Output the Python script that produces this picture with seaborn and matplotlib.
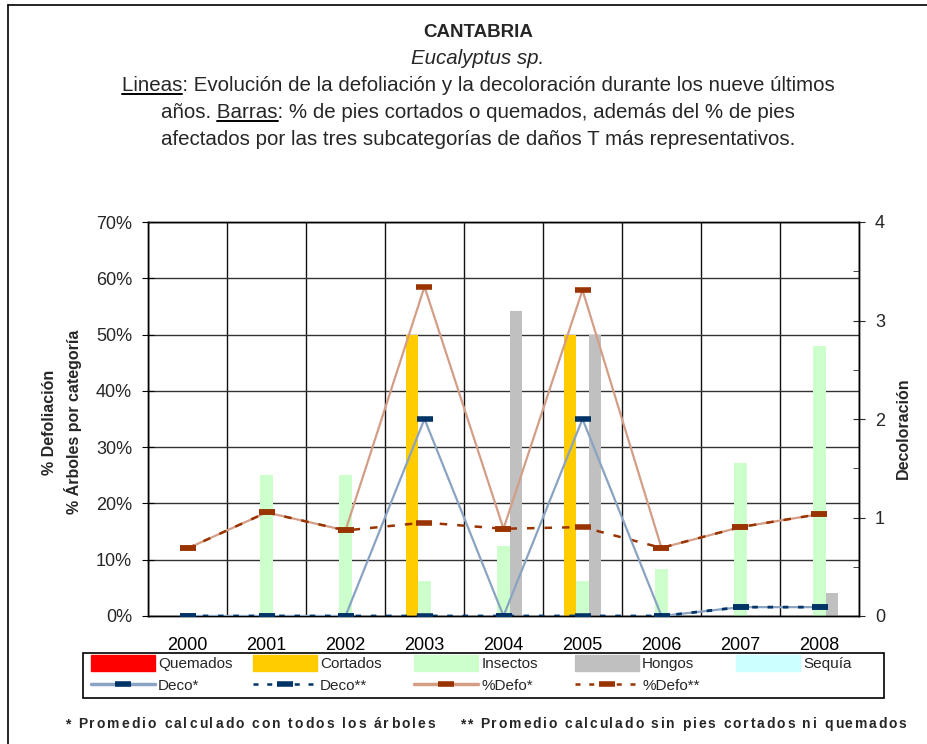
import numpy as np
import pandas as pd
import seaborn as sns
import matplotlib.pyplot as plt
from matplotlib.lines import Line2D
from matplotlib.patches import Patch, Rectangle
from matplotlib.ticker import FuncFormatter, MultipleLocator

years = ['2000', '2001', '2002', '2003', '2004', '2005', '2006', '2007', '2008']

# bars, % of trees per category
quemados = [0, 0, 0, 0, 0, 0, 0, 0, 0]
cortados = [0, 0, 0, 50, 0, 50, 0, 0, 0]
insectos = [0, 25, 25, 6.25, 12.5, 6.25, 8.33, 27.1, 48]
hongos = [0, 0, 0, 0, 54.2, 50, 0, 0, 4]
sequia = [0, 0, 0, 0, 0, 0, 0, 0, 0]

# lines
defo_all = [12.0, 18.4, 15.2, 58.5, 15.5, 57.9, 12.1, 15.8, 18.1]
defo_nocut = [12.0, 18.4, 15.2, 16.6, 15.5, 15.8, 12.1, 15.8, 18.1]
deco_all = [0, 0, 0, 2.0, 0, 2.0, 0, 0.09, 0.09]
deco_nocut = [0, 0, 0, 0, 0, 0, 0, 0.09, 0.09]

cats = ['Quemados', 'Cortados', 'Insectos', 'Hongos', 'Sequía']
colors = ['#FF0000', '#FFCC00', '#CCFFCC', '#C0C0C0', '#CCFFFF']

df = pd.DataFrame({
    'year': years * 5,
    'valor': quemados + cortados + insectos + hongos + sequia,
    'cat': sum([[c] * len(years) for c in cats], []),
})

sns.set_style('white')
plt.rcParams['font.family'] = ['Liberation Sans', 'DejaVu Sans']

W, H = 928, 744
fig = plt.figure(figsize=(W / 100, H / 100), dpi=100)
ax = fig.add_axes([148 / W, 1 - 616 / H, 711 / W, 394 / H])

sns.barplot(data=df, x='year', y='valor', hue='cat', hue_order=cats,
            palette=dict(zip(cats, colors)), saturation=1, linewidth=0,
            legend=False, ax=ax, zorder=2)

xpos = np.arange(len(years))
c_deco_all, c_deco_nc, c_mk_deco = '#8AA3C2', '#003366', '#003366'
c_defo_all, c_defo_nc, c_mk_defo = '#D49E86', '#993300', '#993300'
mk = dict(marker='_', markersize=11, markeredgewidth=4)

sns.lineplot(x=xpos, y=defo_all, ax=ax, color=c_defo_all, lw=1.6,
             markeredgecolor=c_mk_defo, zorder=4, **mk)
sns.lineplot(x=xpos, y=defo_nocut, ax=ax, color=c_defo_nc, lw=1.8,
             linestyle=(0, (3, 4)), markeredgecolor=c_mk_defo, zorder=5, **mk)

ax.set_xlim(-0.5, len(years) - 0.5)
ax.set_ylim(0, 70)
ax.yaxis.set_major_locator(MultipleLocator(10))
ax.yaxis.set_major_formatter(FuncFormatter(lambda v, p: f'{v:.0f}%'))
ax.set_xticks(xpos)
ax.set_xticklabels(years)
ax.set_xticks(np.arange(-0.5, len(years)), minor=True)
ax.grid(True, axis='y', which='major', color='#333333', lw=1)
ax.grid(True, axis='x', which='minor', color='#111111', lw=1)
ax.set_axisbelow(True)
ax.tick_params(axis='x', which='major', length=0, labelsize=13, pad=15, colors='black')
ax.tick_params(axis='x', which='minor', length=8, direction='inout', color='black')
ax.tick_params(axis='y', length=9, direction='inout', labelsize=13, pad=7, color='black', left=True)
ax.set_xlabel('')
ax.set_ylabel('')
for s in ax.spines.values():
    s.set_color('black')
    s.set_linewidth(1)

ax2 = ax.twinx()
sns.lineplot(x=xpos, y=deco_all, ax=ax2, color=c_deco_all, lw=1.6,
             markeredgecolor=c_mk_deco, zorder=4, **mk)
sns.lineplot(x=xpos, y=deco_nocut, ax=ax2, color=c_deco_nc, lw=2,
             linestyle=(0, (2, 3.5)), markeredgecolor=c_mk_deco, zorder=5, **mk)
ax2.set_ylim(0, 4)
ax2.set_xlim(-0.5, len(years) - 0.5)
ax2.yaxis.set_major_locator(MultipleLocator(1))
ax2.yaxis.set_minor_locator(MultipleLocator(0.5))
ax2.tick_params(axis='y', which='major', length=9, direction='inout', labelsize=13, pad=7, right=True)
ax2.tick_params(axis='y', which='minor', length=4, direction='in', right=True)
ax2.set_ylabel('')
for s in ax2.spines.values():
    s.set_color('black')
    s.set_linewidth(1)

fig.text(62 / W, 1 - 422 / H, '% Defoliación\n% Árboles por categoría', rotation=90,
         ha='center', va='center', ma='center', fontsize=11.5, fontweight='bold', linespacing=1.45)
fig.text(903 / W, 1 - 428 / H, 'Decoloración', rotation=90, ha='center', va='center',
         fontsize=11.5, fontweight='bold')

# title block
fs = 14.8
cx = 478 / W
fig.text(cx, 1 - 37 / H, 'CANTABRIA', ha='center', va='baseline', fontsize=13.5, fontweight='bold')
fig.text(cx, 1 - 64 / H, 'Eucalyptus sp.', ha='center', va='baseline', fontsize=fs, style='italic')
l3 = fig.text(cx, 1 - 91 / H, 'Lineas: Evolución de la defoliación y la decoloración durante los nueve últimos',
              ha='center', va='baseline', fontsize=fs)
l4 = fig.text(cx, 1 - 118 / H, 'años. Barras: % de pies cortados o quemados, además del % de pies',
              ha='center', va='baseline', fontsize=fs)
fig.text(cx, 1 - 145 / H, 'afectados por las tres subcategorías de daños T más representativos.',
         ha='center', va='baseline', fontsize=fs)

r = fig.canvas.get_renderer()


def width(s, **kw):
    t = fig.text(0, 0, s, **kw)
    w = t.get_window_extent(r).width
    t.remove()
    return w


def underline(txt, before, word):
    kw = dict(fontproperties=txt.get_fontproperties())
    bb = txt.get_window_extent(r)
    x1 = bb.x0 + width(before + word, **kw)
    x0 = x1 - width(word, **kw)
    y = txt.get_position()[1] * H - 3
    fig.add_artist(Line2D([x0 / W, x1 / W], [y / H, y / H], color='black', lw=1.4,
                          transform=fig.transFigure))


underline(l3, '', 'Lineas')
underline(l4, 'años. ', 'Barras')


def spaced(x0, ybase, s, sp, **kw):
    # text with extra letter spacing, char by char
    ref = width('x', **kw)
    for i, ch in enumerate(s):
        if ch == ' ':
            continue
        x = x0 + width(s[:i] + 'x', **kw) - ref + i * sp
        fig.text(x / W, 1 - ybase / H, ch, ha='left', va='baseline', **kw)


fkw = dict(fontsize=10, fontweight='bold')
spaced(65, 728, '* Promedio calculado con todos los árboles', 2.0, **fkw)
spaced(460, 728, '** Promedio calculado sin pies cortados ni quemados', 1.85, **fkw)

# legend: one small legend per column so columns are evenly spaced
bar_h = [Patch(color=c, label=n) for n, c in zip(cats, colors)]
line_h = [
    Line2D([], [], color=c_deco_all, lw=2.5, markeredgecolor=c_mk_deco, label='Deco*', **mk),
    Line2D([], [], color=c_deco_nc, lw=1.8, ls=(0, (2, 3.5)), markeredgecolor=c_mk_deco, label='Deco**', **mk),
    Line2D([], [], color=c_defo_all, lw=2.5, markeredgecolor=c_mk_defo, label='%Defo*', **mk),
    Line2D([], [], color=c_defo_nc, lw=1.8, ls=(0, (2, 3.5)), markeredgecolor=c_mk_defo, label='%Defo**', **mk),
]
col_x = [91, 253, 414, 575, 736]
for i, x in enumerate(col_x):
    hs = [bar_h[i]] + ([line_h[i]] if i < len(line_h) else [])
    fig.legend(handles=hs, loc='upper left', bbox_to_anchor=(x / W, 1 - 655 / H),
               fontsize=11, frameon=False, handlelength=4.2, handleheight=1.2,
               handletextpad=0.2, labelspacing=0.4, borderpad=0, borderaxespad=0)
fig.add_artist(Rectangle((83 / W, 1 - 698 / H), 801 / W, 45 / H, fill=False,
                         edgecolor='black', lw=1.2, transform=fig.transFigure))

# outer frame
fig.add_artist(Line2D([8 / W, 8 / W], [0, 1 - 5 / H], color='black', lw=1.2, transform=fig.transFigure))
fig.add_artist(Line2D([8 / W, 1], [1 - 5 / H, 1 - 5 / H], color='black', lw=1.2, transform=fig.transFigure))

fig.savefig('out.png', dpi=100)
